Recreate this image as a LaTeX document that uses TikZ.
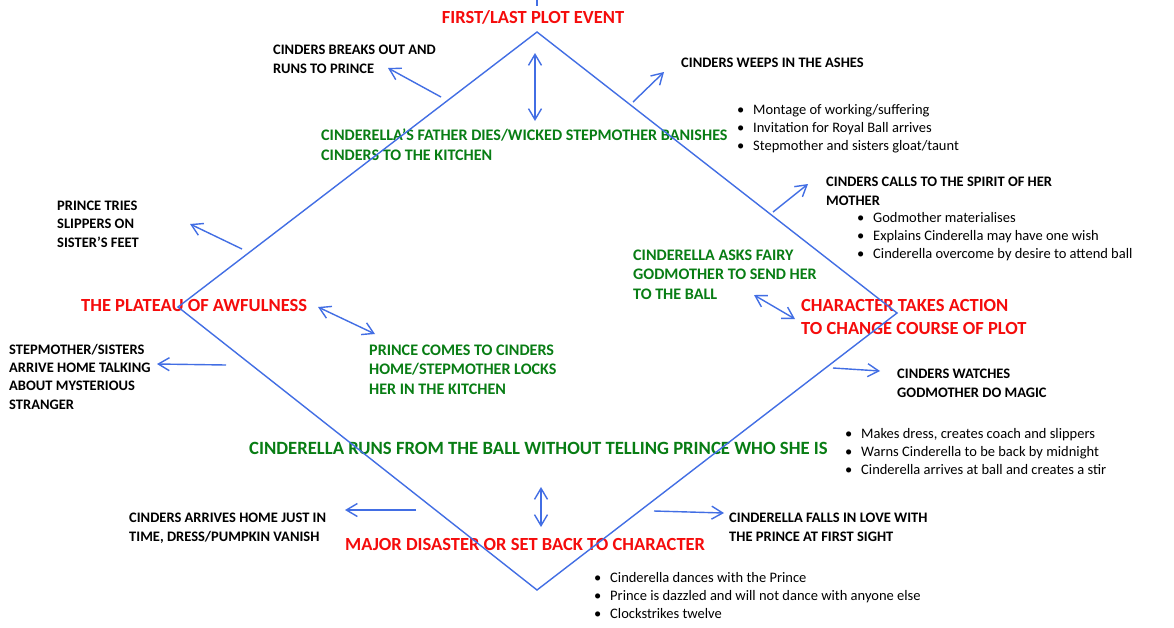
\documentclass[tikz,border=0pt]{standalone}
\usepackage{fontspec}
\setmainfont{Carlito}
\usetikzlibrary{arrows.meta}
\definecolor{lineblue}{RGB}{66,110,228}
\definecolor{plotred}{RGB}{245,12,12}
\definecolor{plotgreen}{RGB}{8,125,20}
\begin{document}
\begin{tikzpicture}[x=1pt,y=-1pt,
  evt/.style={font=\bfseries\fontsize{18.5}{23}\selectfont, text=plotred, inner sep=0pt, align=left, anchor=base west},
  grn/.style={font=\bfseries\fontsize{16.1}{19.5}\selectfont, text=plotgreen, inner sep=0pt, align=left, anchor=base west},
  bgrn/.style={font=\bfseries\fontsize{18.7}{22}\selectfont, text=plotgreen, inner sep=0pt, align=left, anchor=base west},
  blk/.style={font=\bfseries\fontsize{14.5}{18.3}\selectfont, text=black, inner sep=0pt, align=left, anchor=base west},
  bul/.style={font=\fontsize{14.5}{18}\selectfont, text=black, inner sep=0pt, align=left, anchor=base west},
  plotline/.style={draw=lineblue, line width=1.4pt, line join=miter},
  tip/.style={Straight Barb[length=11pt,width=13pt,line width=1.4pt]},
  arr/.style={draw=lineblue, line width=1.4pt, -{Straight Barb[length=11pt,width=13pt,line width=1.4pt]}},
  darr/.style={draw=lineblue, line width=1.4pt, {Straight Barb[length=11pt,width=13pt,line width=1.4pt]}-{Straight Barb[length=11pt,width=13pt,line width=1.4pt]}}
]
\useasboundingbox (0,0) rectangle (1174,627);
\fill[white] (0,0) rectangle (1174,627);
\newcommand{\bl}{\makebox[16pt][l]{\textbullet}}

% texts (anchored at the baseline of their last line)
\node[evt, anchor=base] (first) at (533,23) {FIRST/LAST PLOT EVENT};
\node[blk] (breaks) at (273,73) {CINDERS BREAKS OUT AND\\RUNS TO PRINCE};
\node[blk] (weeps) at (681,67) {CINDERS WEEPS IN THE ASHES};
\node[bul] (list1) at (737,150) {\bl Montage of working/suffering\\\bl Invitation for Royal Ball arrives\\\bl Stepmother and sisters gloat/taunt};
\node[grn] (father) at (321,160) {CINDERELLA'S FATHER DIES/WICKED STEPMOTHER BANISHES\\CINDERS TO THE KITCHEN};
\node[blk] (calls) at (826,205) {CINDERS CALLS TO THE SPIRIT OF HER\\MOTHER};
\node[bul] (list2) at (857,258) {\bl Godmother materialises\\\bl Explains Cinderella may have one wish\\\bl Cinderella overcome by desire to attend ball};
\node[blk] (tries) at (57,247) {PRINCE TRIES\\SLIPPERS ON\\SISTER'S FEET};
\node[grn] (asks) at (633,299) {CINDERELLA ASKS FAIRY\\GODMOTHER TO SEND HER\\TO THE BALL};
\node[evt] (plateau) at (81,311) {THE PLATEAU OF AWFULNESS};
\node[evt] (action) at (801,334) {CHARACTER TAKES ACTION\\TO CHANGE COURSE OF PLOT};
\node[blk] (sisters) at (9,409) {STEPMOTHER/SISTERS\\ARRIVE HOME TALKING\\ABOUT MYSTERIOUS\\STRANGER};
\node[grn] (comes) at (369,394) {PRINCE COMES TO CINDERS\\HOME/STEPMOTHER LOCKS\\HER IN THE KITCHEN};
\node[blk] (watches) at (897,397) {CINDERS WATCHES\\GODMOTHER DO MAGIC};
\node[bgrn] (runs) at (249,454) {CINDERELLA RUNS FROM THE BALL WITHOUT TELLING PRINCE WHO SHE IS};
\node[bul] (list3) at (845,474) {\bl Makes dress, creates coach and slippers\\\bl Warns Cinderella to be back by midnight\\\bl Cinderella arrives at ball and creates a stir};
\node[blk] (home) at (129,541) {CINDERS ARRIVES HOME JUST IN\\TIME, DRESS/PUMPKIN VANISH};
\node[evt] (disaster) at (345,550) {MAJOR DISASTER OR SET BACK TO CHARACTER};
\node[blk] (falls) at (729,541) {CINDERELLA FALLS IN LOVE WITH\\THE PRINCE AT FIRST SIGHT};
\node[bul] (list4) at (594,618) {\bl Cinderella dances with the Prince\\\bl Prince is dazzled and will not dance with anyone else\\\bl Clockstrikes twelve};

% diamond (drawn over the texts, as in the reference)
\coordinate (top) at (537,32);
\coordinate (left) at (178,307);
\coordinate (right) at (897,313);
\coordinate (bottom) at (537,590);
\coordinate (stubA) at (537,0);
\coordinate (stubB) at (537,6);
\draw[plotline] (top) -- (right) -- (bottom) -- (left) -- cycle;
\draw[plotline] (stubA) -- (stubB);

% arrow end points
\coordinate (a1s) at (535,53);   \coordinate (a1e) at (535,121);
\coordinate (a2s) at (441,97);   \coordinate (a2e) at (388,68);
\coordinate (a3s) at (633,102);  \coordinate (a3e) at (664,72);
\coordinate (a4s) at (773,212);  \coordinate (a4e) at (808,184);
\coordinate (a5s) at (242,249);  \coordinate (a5e) at (190,224);
\coordinate (a6s) at (318,307);  \coordinate (a6e) at (375,334);
\coordinate (a7s) at (226,365);  \coordinate (a7e) at (157,364);
\coordinate (a8s) at (754,295);  \coordinate (a8e) at (795,319);
\coordinate (a9s) at (833,368);  \coordinate (a9e) at (880,371);
\coordinate (a10s) at (541,487); \coordinate (a10e) at (541,527);
\coordinate (a11s) at (416,510); \coordinate (a11e) at (345,510);
\coordinate (a12s) at (654,511); \coordinate (a12e) at (724,513);

\draw[darr] (a1s) -- (a1e);
\draw[arr] (a2s) -- (a2e);
\draw[arr] (a3s) -- (a3e);
\draw[arr] (a4s) -- (a4e);
\draw[arr] (a5s) -- (a5e);
\draw[darr] (a6s) -- (a6e);
\draw[arr] (a7s) -- (a7e);
\draw[darr] (a8s) -- (a8e);
\draw[arr] (a9s) -- (a9e);
\draw[darr] (a10s) -- (a10e);
\draw[arr] (a11s) -- (a11e);
\draw[arr] (a12s) -- (a12e);
\end{tikzpicture}
\end{document}
